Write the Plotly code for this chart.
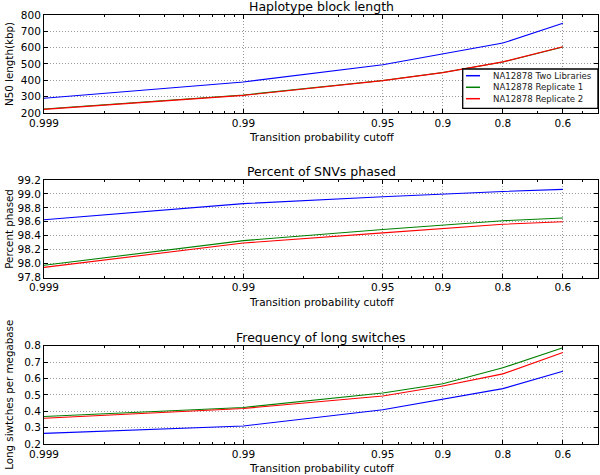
import plotly.graph_objects as go

# x values expressed as 1 - cutoff (log axis), labels are the cutoffs
cutoff_labels = ["0.999", "0.99", "0.95", "0.9", "0.8", "0.6"]
one_minus_cutoff = [0.001, 0.01, 0.05, 0.1, 0.2, 0.4]

series_names = ["NA12878 Two Libraries", "NA12878 Replicate 1", "NA12878 Replicate 2"]
series_colors = ["#0000ff", "#008000", "#ff0000"]

n50_two = [290, 390, 495, 560, 628, 750]
n50_rep1 = [224, 310, 399, 448, 512, 604]
n50_rep2 = [222, 308, 398, 447, 513, 605]

pct_two = [98.63, 98.86, 98.96, 99.0, 99.035, 99.065]
pct_rep1 = [97.975, 98.33, 98.49, 98.55, 98.615, 98.655]
pct_rep2 = [97.945, 98.295, 98.44, 98.50, 98.565, 98.60]

sw_two = [0.265, 0.31, 0.409, 0.472, 0.538, 0.644]
sw_rep1 = [0.368, 0.423, 0.511, 0.568, 0.665, 0.788]
sw_rep2 = [0.357, 0.417, 0.493, 0.554, 0.628, 0.759]

panel_titles = ["Haplotype block length", "Percent of SNVs phased", "Frequency of long switches"]
y_titles = ["N50 length(kbp)", "Percent phased", "Long siwtches per megabase"]
y_ranges = [[200, 800], [97.8, 99.2], [0.2, 0.8]]
y_dticks = [100, 0.2, 0.1]
y_formats = ["d", ".1f", ".1f"]
minor_x = [0.002, 0.003, 0.004, 0.005, 0.006, 0.007, 0.008, 0.009,
           0.02, 0.03, 0.04, 0.06, 0.07, 0.08, 0.09, 0.3, 0.5]

panels = [
    [n50_two, n50_rep1, n50_rep2],
    [pct_two, pct_rep1, pct_rep2],
    [sw_two, sw_rep1, sw_rep2],
]
domains = [[0.7716, 1.0], [0.3881, 0.6154], [0.0, 0.2291]]

FONT = "DejaVu Sans"
GRID = "#9a9a9a"
fig = go.Figure()

for i, data in enumerate(panels):
    xa = "x" if i == 0 else f"x{i+1}"
    ya = "y" if i == 0 else f"y{i+1}"
    for j, vals in enumerate(data):
        fig.add_trace(go.Scatter(
            x=one_minus_cutoff, y=vals, mode="lines",
            line=dict(color=series_colors[j], width=1.1),
            name=series_names[j], showlegend=False,
            xaxis=xa, yaxis=ya,
        ))
    axkey = "xaxis" if i == 0 else f"xaxis{i+1}"
    aykey = "yaxis" if i == 0 else f"yaxis{i+1}"
    fig.layout[axkey] = dict(
        type="log", range=[-3, -0.2218], domain=[0, 1], anchor=ya,
        tickmode="array", tickvals=one_minus_cutoff, ticktext=cutoff_labels,
        ticks="inside", ticklen=4, tickcolor="black",
        showline=True, linecolor="black", linewidth=1, mirror="allticks",
        showgrid=True, gridcolor=GRID, griddash="1px,2px", gridwidth=1,
        zeroline=False,
        minor=dict(tickmode="array", tickvals=minor_x, ticks="inside",
                   ticklen=2, tickcolor="black", showgrid=False),
        tickfont=dict(family=FONT, size=10.5, color="black"),
    )
    fig.layout[aykey] = dict(
        range=y_ranges[i], domain=domains[i], anchor=xa,
        dtick=y_dticks[i], tick0=y_ranges[i][0], tickformat=y_formats[i],
        ticks="inside", ticklen=4, tickcolor="black",
        showline=True, linecolor="black", linewidth=1, mirror="allticks",
        showgrid=True, gridcolor=GRID, griddash="1px,2px", gridwidth=1,
        zeroline=False,
        tickfont=dict(family=FONT, size=10.5, color="black"),
    )
    # panel title
    fig.add_annotation(text=panel_titles[i], xref="paper", yref="paper",
                       x=0.5, y=domains[i][1], yanchor="bottom", yshift=-1,
                       showarrow=False, font=dict(family=FONT, size=12.5, color="black"))
    # x-axis title
    fig.add_annotation(text="Transition probability cutoff", xref="paper", yref="paper",
                       x=0.5, y=domains[i][0], yanchor="middle", yshift=-24,
                       showarrow=False, font=dict(family=FONT, size=10.5, color="black"))
    # y-axis title
    fig.add_annotation(text=y_titles[i], xref="paper", yref="paper",
                       x=0, xshift=-35, xanchor="center",
                       y=(domains[i][0] + domains[i][1]) / 2, yanchor="middle",
                       textangle=-90, showarrow=False,
                       font=dict(family=FONT, size=10.3, color="black"))

# Legend drawn as a compact inset box in the top panel (bottom right)
leg_x0, leg_x1, leg_y0, leg_y1 = 0.7558, 0.9999, 0.7825, 0.8741
row_y = [0.8585, 0.8315, 0.8049]
fig.add_shape(type="rect", xref="paper", yref="paper",
              x0=leg_x0, x1=leg_x1, y0=leg_y0, y1=leg_y1,
              line=dict(color="black", width=1.3), fillcolor="white", layer="above")
for j, name in enumerate(series_names):
    fig.add_shape(type="line", xref="paper", yref="paper",
                  x0=0.7617, x1=0.787, y0=row_y[j], y1=row_y[j],
                  line=dict(color=series_colors[j], width=1.5), layer="above")
    fig.add_annotation(text=name, xref="paper", yref="paper",
                       x=0.808, y=row_y[j], xanchor="left", yanchor="middle",
                       xshift=-1, showarrow=False,
                       font=dict(family=FONT, size=8.6, color="#222222"))

fig.update_layout(
    width=600, height=475,
    margin=dict(l=44, r=2, t=15, b=31),
    paper_bgcolor="white", plot_bgcolor="white",
    showlegend=False,
)

fig.write_html("out.html", config={"displayModeBar": False},
               post_script="document.body.style.margin='0';document.body.style.overflow='hidden';")
